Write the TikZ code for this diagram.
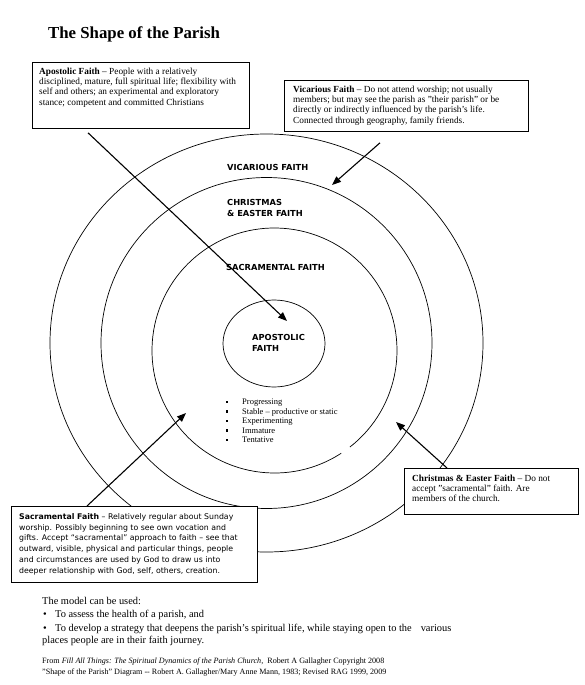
\documentclass[tikz,border=0pt]{standalone}
\usepackage{fontspec}
\setmainfont{Liberation Serif}
\newfontfamily\labelsans{DejaVu Sans}
\usetikzlibrary{arrows.meta}
\usetikzlibrary{positioning}
\tikzset{>={Triangle[length=9pt,width=7pt]}}
\newcommand{\infofont}{\fontsize{9.3}{10.3}\selectfont}
\newcommand{\sacfont}{\labelsans\fontsize{7.8}{10.9}\selectfont}
\newcommand{\ringfont}{\labelsans\bfseries\fontsize{8.3}{11}\selectfont}
\newcommand{\notefont}{\fontsize{10.4}{12}\selectfont}
\tikzset{ring/.style={line width=0.7pt}}
\tikzset{infobox/.style={draw,fill=white,line width=0.8pt,anchor=north west,inner sep=0pt}}
\tikzset{boxtext/.style={anchor=north west,align=left,inner sep=0pt}}
\tikzset{ringlabel/.style={anchor=west,align=left,inner sep=0pt,font=\ringfont}}
\tikzset{note/.style={anchor=base west,inner sep=0pt,font=\notefont}}
\tikzset{pointer/.style={->,line width=1.1pt}}

\begin{document}
\begin{tikzpicture}[x=1pt,y=-1pt]
    \useasboundingbox (0,0) rectangle (585,685);

    % the rings
    \coordinate (outer) at (266.5,343);
    \coordinate (middle) at (274.5,350.5);
    \coordinate (core) at (274,343.5);
    \draw[ring] (outer) ellipse [x radius=216.5, y radius=209];
    \draw[ring] (outer) circle [radius=165.5];
    \draw[ring] (middle) ++(57:122.5) arc [start angle=57, end angle=412, radius=122.5];
    \draw[ring] (core) ellipse [x radius=51, y radius=43.5];

    \node[anchor=base west,inner sep=0pt,font=\fontsize{16.8}{20}\selectfont\bfseries] (title) at (48,38) {The Shape of the Parish};

    % labels in the rings
    \node[ringlabel] (vicarlab) at (227,167) {VICARIOUS FAITH};
    \node[ringlabel] (easterlab) at (227,207.5) {CHRISTMAS\\\& EASTER FAITH};
    \node[ringlabel] (sacrlab) at (226,267) {SACRAMENTAL FAITH};
    \node[ringlabel] (apostlab) at (252,342.5) {APOSTOLIC\\FAITH};

    \foreach \txt [count=\i] in {Progressing, Stable – productive or static, Experimenting, Immature, Tentative} {
      \node[anchor=base west,inner sep=0pt,font=\fontsize{8.5}{9}\selectfont] (item\i) at (242,395+9.5*\i) {\txt};
      \node[fill,inner sep=0pt,minimum size=2.1pt] (dot\i) at (227,392.5+9.5*\i) {};
    }

    % the boxes
    \node[infobox,minimum width=217,minimum height=66] (apostbox) at (32,62) {};
    \node[boxtext,font=\infofont,below right=5.5pt and 7pt of apostbox.north west] (aposttext)
      {\textbf{Apostolic Faith} – People with a relatively\\disciplined, mature, full spiritual life; flexibility with\\self and others; an experimental and exploratory\\stance; competent and committed Christians};

    \node[infobox,minimum width=244,minimum height=51] (vicarbox) at (284,80) {};
    \node[boxtext,font=\infofont,below right=5.5pt and 9pt of vicarbox.north west] (vicartext)
      {\textbf{Vicarious Faith} – Do not attend worship; not usually\\members; but may see the parish as "their parish" or be\\directly or indirectly influenced by the parish's life.\\Connected through geography, family friends.};

    \node[infobox,minimum width=174,minimum height=46] (easterbox) at (404,468) {};
    \node[boxtext,font=\infofont,below right=6.5pt and 8pt of easterbox.north west] (eastertext)
      {\textbf{Christmas \& Easter Faith} – Do not\\accept "sacramental" faith. Are\\members of the church.};

    \node[infobox,minimum width=246,minimum height=76] (sacrbox) at (11,506) {};
    \node[boxtext,font=\sacfont,below right=7pt and 8pt of sacrbox.north west] (sacrtext)
      {\textbf{Sacramental Faith} – Relatively regular about Sunday\\worship. Possibly beginning to see own vocation and\\gifts. Accept “sacramental” approach to faith – see that\\outward, visible, physical and particular things, people\\and circumstances are used by God to draw us into\\deeper relationship with God, self, others, creation.};

    % arrows
    \coordinate (aposttip) at (287,321);
    \coordinate (vicartip) at (332,185);
    \coordinate (sacrtip) at (186,413);
    \coordinate (eastertip) at (396,422);
    \draw[pointer] ([xshift=56pt,yshift=-4pt]apostbox.south west) -- (aposttip);
    \draw[pointer] ([xshift=96pt,yshift=-11pt]vicarbox.south west) -- (vicartip);
    \draw[pointer] ([xshift=76pt]sacrbox.north west) -- (sacrtip);
    \draw[pointer] ([xshift=43pt]easterbox.north west) -- (eastertip);

    % notes below
    \node[note] (usedtext) at (42,604.5) {The model can be used:};
    \node[note] (use1) at (55,617.5) {To assess the health of a parish, and};
    \node[note] (use2) at (55,631.5) {To develop a strategy that deepens the parish's spiritual life, while staying open to the\hspace{9pt}various};
    \node[note] (use3) at (42,643.5) {places people are in their faith journey.};
    \node[note] (bul1) at (43,617.5) {•};
    \node[note] (bul2) at (43,631.5) {•};

    \node[anchor=base west,inner sep=0pt,font=\fontsize{8.1}{9}\selectfont] (source1) at (42,663.5) {From \textit{Fill All Things: The Spiritual Dynamics of the Parish Church,}\ \ Robert A Gallagher Copyright 2008};
    \node[anchor=base west,inner sep=0pt,font=\fontsize{8.1}{9}\selectfont] (source2) at (42,674.5) {"Shape of the Parish" Diagram -{}- Robert A. Gallagher/Mary Anne Mann, 1983; Revised RAG 1999, 2009};
\end{tikzpicture}
\end{document}
